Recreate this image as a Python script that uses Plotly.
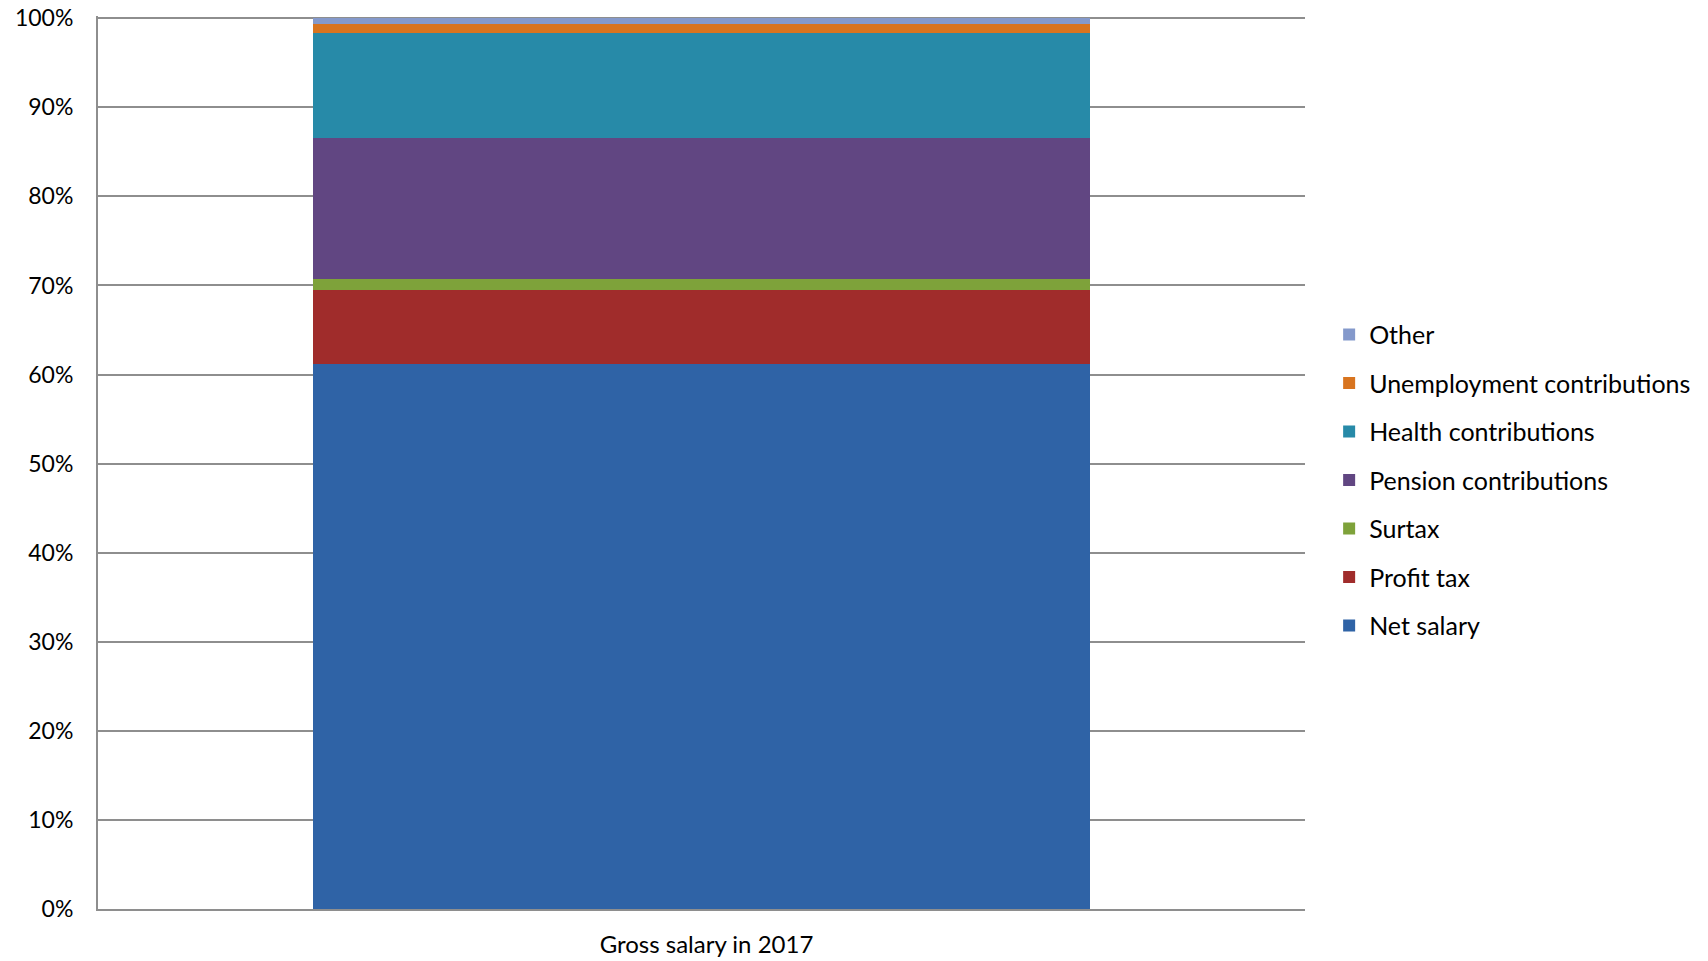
import plotly.graph_objects as go

categories = ["Gross salary in 2017"]
series_names = ["Net salary", "Profit tax", "Surtax", "Pension contributions",
                "Health contributions", "Unemployment contributions", "Other"]
series_values = [61.2, 8.3, 1.2, 15.9, 11.7, 1.1, 0.6]
series_colors = ["#2f63a6", "#a02c2b", "#7ea23a", "#614682", "#278aa8", "#d8741f", "#8499cb"]
y_ticks = list(range(0, 101, 10))
y_tick_labels = [f"{v}%" for v in y_ticks]

FONT = "Lato"

fig = go.Figure()
n = len(series_names)
for i, (name, val, col) in enumerate(zip(series_names, series_values, series_colors)):
    fig.add_trace(go.Bar(
        x=categories, y=[val], name=name, legendgroup=name,
        legendrank=n - i,
        marker=dict(color=col, line=dict(width=0)),
        width=0.643,
    ))

fig.update_layout(
    width=1708, height=961,
    barmode="stack",
    plot_bgcolor="white", paper_bgcolor="white",
    margin=dict(l=98, r=393, t=16, b=52),
    font=dict(family=FONT, size=22, color="black"),
    showlegend=True,
    legend=dict(
        traceorder="grouped", tracegroupgap=13,
        x=1.02, xanchor="left", y=0.48, yanchor="middle",
        font=dict(family=FONT, size=25, color="black"),
        bgcolor="rgba(0,0,0,0)", itemwidth=30,
    ),
    xaxis=dict(
        range=[-0.5, 0.5], showline=True, linecolor="#8e8e8e", linewidth=2,
        showgrid=False, ticks="", ticklabelstandoff=13, ticklabelshift=5,
        automargin=False,
        tickfont=dict(family=FONT, size=24, color="black"),
    ),
    yaxis=dict(
        range=[0, 100.25], tickvals=y_ticks, ticktext=y_tick_labels,
        showline=True, linecolor="#8e8e8e", linewidth=2,
        showgrid=True, gridcolor="#8e8e8e", gridwidth=1.5,
        ticks="", ticklabelstandoff=18, zeroline=False, automargin=False,
        ticklabeloverflow="allow",
        tickfont=dict(family=FONT, size=23, color="black"),
    ),
)

fig.write_html("out.html", config={"displayModeBar": False},
               post_script="document.body.style.margin='0';")
